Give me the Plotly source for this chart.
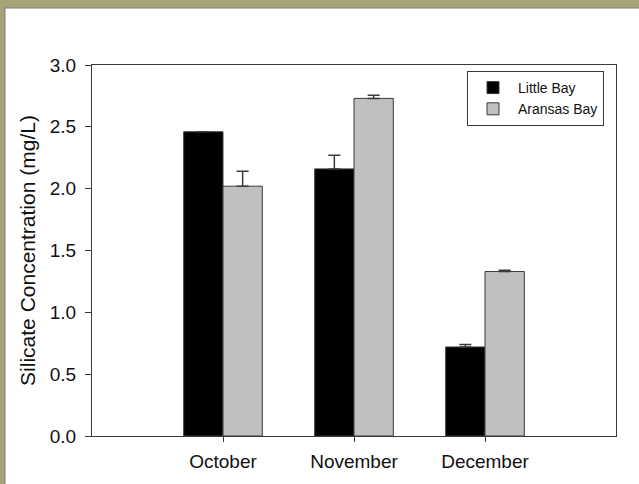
import plotly.graph_objects as go

months = ["October", "November", "December"]
series_names = ["Little Bay", "Aransas Bay"]
little_bay = [2.46, 2.16, 0.72]
little_bay_err = [0.0, 0.11, 0.02]
aransas_bay = [2.02, 2.73, 1.33]
aransas_bay_err = [0.12, 0.025, 0.01]
y_ticks = [0.0, 0.5, 1.0, 1.5, 2.0, 2.5, 3.0]

W, H = 639, 484
L, R, T, B = 92, 23, 65, 48
pw, ph = W - L - R, H - T - B

def px(x):
    return (x - L) / pw

def py(y):
    return (H - B - y) / ph

font = "Liberation Sans, Arial, sans-serif"
edge = "#3a3a3a"

fig = go.Figure()
fig.add_trace(go.Bar(
    x=months, y=little_bay, name=series_names[0],
    marker=dict(color="#000000", line=dict(color=edge, width=1)),
    error_y=dict(type="data", array=little_bay_err, symmetric=False,
                 arrayminus=[0, 0, 0], color=edge, thickness=1.5, width=6),
))
fig.add_trace(go.Bar(
    x=months, y=aransas_bay, name=series_names[1],
    marker=dict(color="#c0c0c0", line=dict(color=edge, width=1)),
    error_y=dict(type="data", array=aransas_bay_err, symmetric=False,
                 arrayminus=[0, 0, 0], color=edge, thickness=1.5, width=6),
))

olive = "#a7a378"
shapes = [
    dict(type="rect", xref="paper", yref="paper", x0=px(5), x1=px(W + 10),
         y0=py(H + 10), y1=py(8), fillcolor="white",
         line=dict(color="#7f7f7f", width=1), layer="below"),
]

fig.update_layout(
    width=W, height=H,
    margin=dict(l=L, r=R, t=T, b=B, pad=0),
    paper_bgcolor=olive,
    plot_bgcolor="white",
    barmode="group",
    bargap=0.4,
    bargroupgap=0,
    shapes=shapes,
    font=dict(family=font, color="#111111"),
    showlegend=True,
    legend=dict(
        x=px(467), y=py(71), xanchor="left", yanchor="top",
        bgcolor="white", bordercolor=edge, borderwidth=1,
        font=dict(size=14, family=font, color="#111111"),
        tracegroupgap=0, itemwidth=40,
    ),
    xaxis=dict(
        range=[-1, 3], showline=True, linecolor=edge, linewidth=1, mirror=True,
        ticks="outside", ticklen=5, tickcolor=edge, tickwidth=1,
        ticklabelstandoff=3,
        tickfont=dict(size=19, family=font, color="#111111"),
        showgrid=False, zeroline=False, fixedrange=True,
    ),
    yaxis=dict(
        range=[0, 3.0], tickvals=y_ticks, ticktext=[f"{v:.1f}" for v in y_ticks],
        showline=True, linecolor=edge, linewidth=1, mirror=True,
        ticks="outside", ticklen=6, tickcolor=edge, tickwidth=1,
        ticklabelstandoff=5,
        tickfont=dict(size=19, family=font, color="#111111"),
        title=dict(text="Silicate Concentration (mg/L)",
                   font=dict(size=21, family=font, color="#111111"), standoff=8),
        showgrid=False, zeroline=False, fixedrange=True,
    ),
)

fig.write_html(
    "out.html",
    config={"displayModeBar": False},
    post_script="document.body.style.margin='0';document.body.style.padding='0';"
                "document.documentElement.style.overflow='hidden';",
)
